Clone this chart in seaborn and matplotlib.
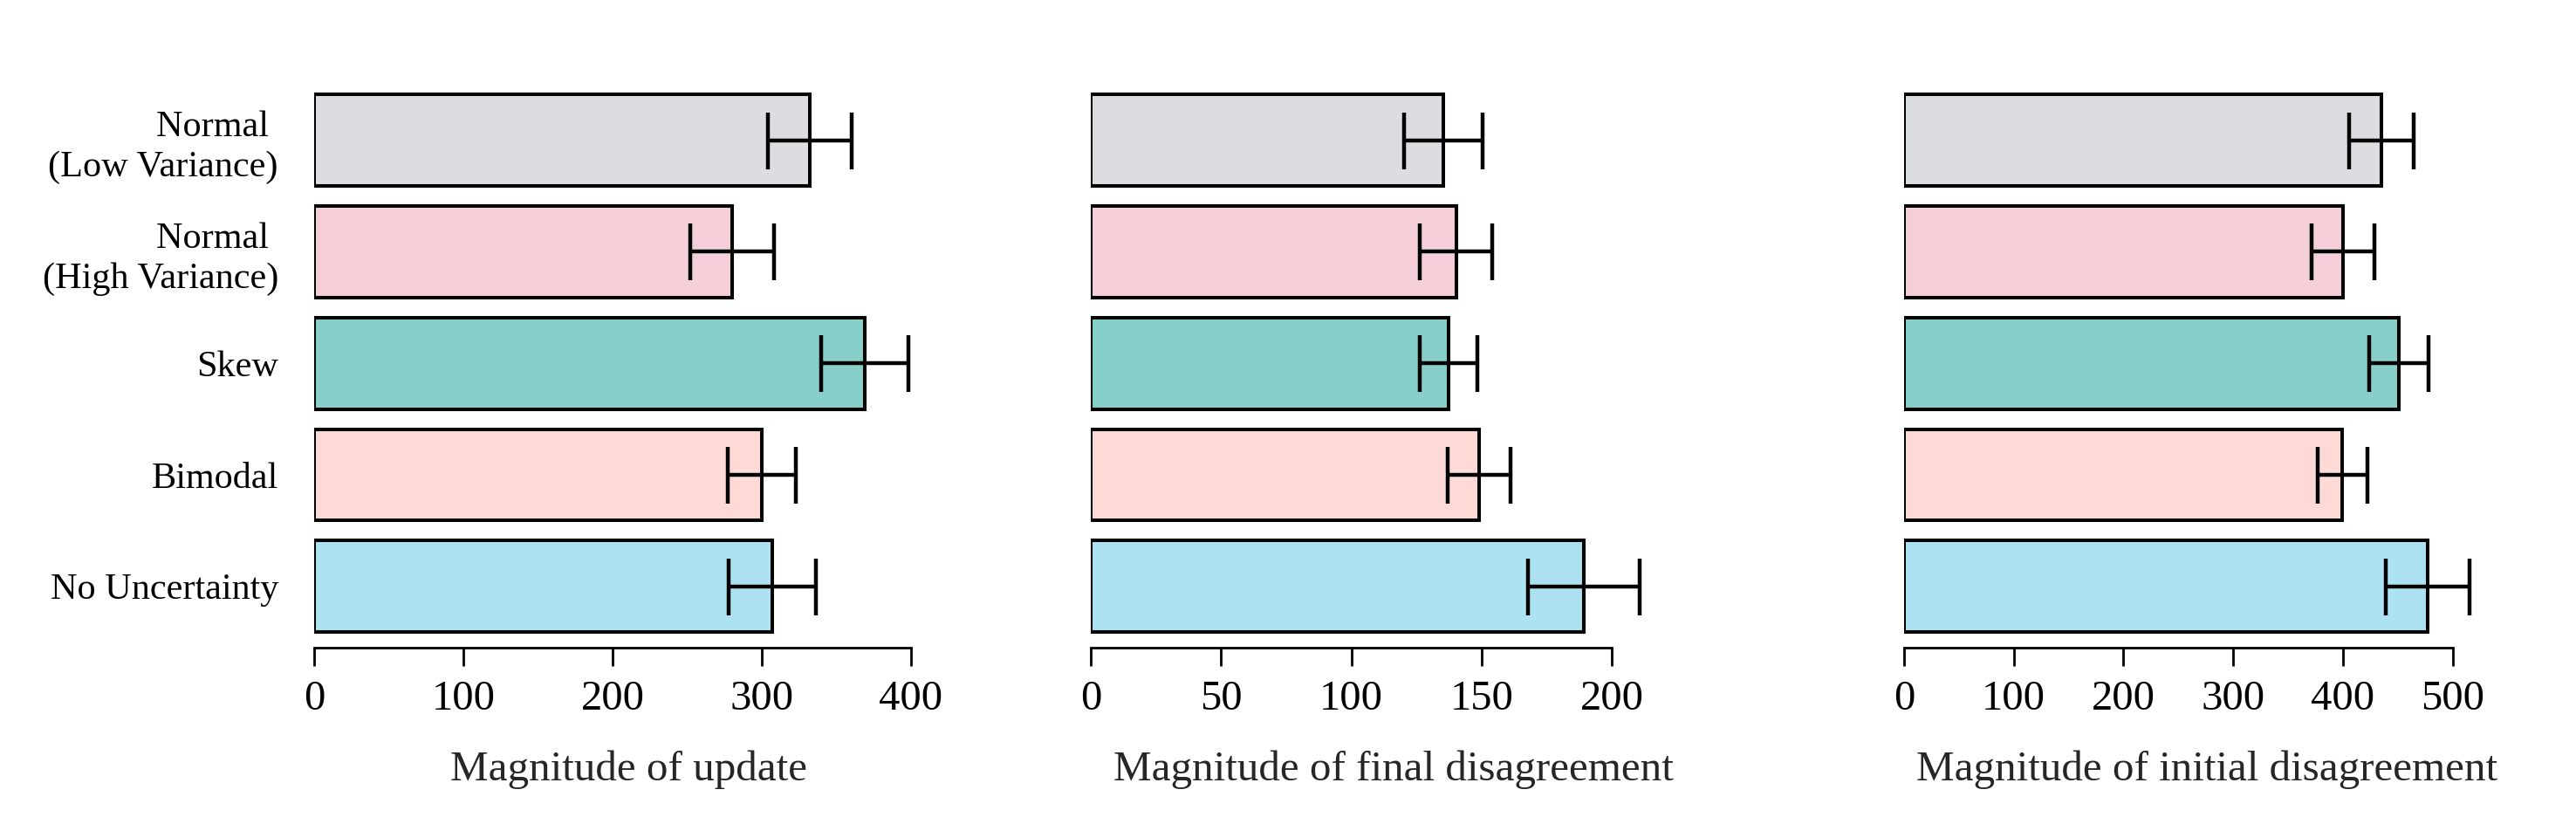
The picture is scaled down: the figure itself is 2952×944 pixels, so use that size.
import matplotlib
matplotlib.use("Agg")
import matplotlib.pyplot as plt
import seaborn as sns
import pandas as pd
import numpy as np

# ---------------- data ----------------
categories = ["Normal \n(Low Variance)", "Normal \n(High Variance)", "Skew", "Bimodal", "No Uncertainty"]
colors = ["#DCDDE1", "#F4CFD8", "#86D0C9", "#FDDAD6", "#ACE2F2"]

update_mean = [332, 280, 369, 300, 307]
update_err = [28, 28, 29, 23, 29]
final_mean = [135.4, 140.2, 137.3, 149.0, 189.2]
final_err = [15.0, 14.0, 11.0, 12.0, 21.5]
initial_mean = [435.0, 400.0, 450.7, 399.6, 477.3]
initial_err = [29.5, 28.6, 27.0, 23.0, 38.0]

xlabels = ["Magnitude of update", "Magnitude of final disagreement", "Magnitude of initial disagreement"]
xticks = [[0, 100, 200, 300, 400], [0, 50, 100, 150, 200], [0, 100, 200, 300, 400, 500]]
xlims = [422, 232.7, 552.6]

# ---------------- style ----------------
sns.set_style("white")
plt.rcParams["font.family"] = ["Liberation Serif", "DejaVu Serif"]

W, H, DPI = 2952, 944, 200
fig = plt.figure(figsize=(W / DPI, H / DPI), dpi=DPI)

ax_left_px = [360, 1250, 2182]
ax_w_px = [721.6, 694.8, 694.8]
ax_top_px, ax_bot_px = 96.7, 735.6

panels = [(update_mean, update_err), (final_mean, final_err), (initial_mean, initial_err)]

for i, (means, errs) in enumerate(panels):
    ax = fig.add_axes([ax_left_px[i] / W, 1 - ax_bot_px / H, ax_w_px[i] / W, (ax_bot_px - ax_top_px) / H])
    df = pd.DataFrame({"cond": categories, "value": means})
    sns.barplot(data=df, x="value", y="cond", hue="cond", palette=colors, order=categories,
                hue_order=categories, orient="h", width=0.82, edgecolor="black", linewidth=1.45,
                saturation=1, errorbar=None, legend=False, ax=ax)
    ax.errorbar(means, np.arange(len(categories)), xerr=errs, fmt="none", ecolor="black",
                elinewidth=1.6, capsize=11.7, capthick=1.6, zorder=5)
    ax.set_xticks(xticks[i])
    ax.set_xlim(0, xlims[i])
    ax.set_ylim(len(categories) - 0.5, -0.5)
    ax.set_ylabel("")
    ax.set_xlabel(xlabels[i], fontsize=17.7, labelpad=13)
    ax.tick_params(axis="x", length=7.5, width=1.0, pad=6, labelsize=17.5, color="black",
                   bottom=True, labelcolor="black")
    if i == 0:
        ax.tick_params(axis="y", length=0, pad=14.8, labelsize=15.2, labelcolor="black")
        for lab in ax.get_yticklabels():
            lab.set_linespacing(1.26)
            lab.set_multialignment("right")
    else:
        ax.tick_params(axis="y", length=0, labelleft=False)
    sns.despine(ax=ax, left=True, offset={"bottom": 2.2}, trim=True)
    ax.spines["bottom"].set_linewidth(1.0)
    ax.spines["bottom"].set_color("black")

fig.savefig("out.png", dpi=DPI)
